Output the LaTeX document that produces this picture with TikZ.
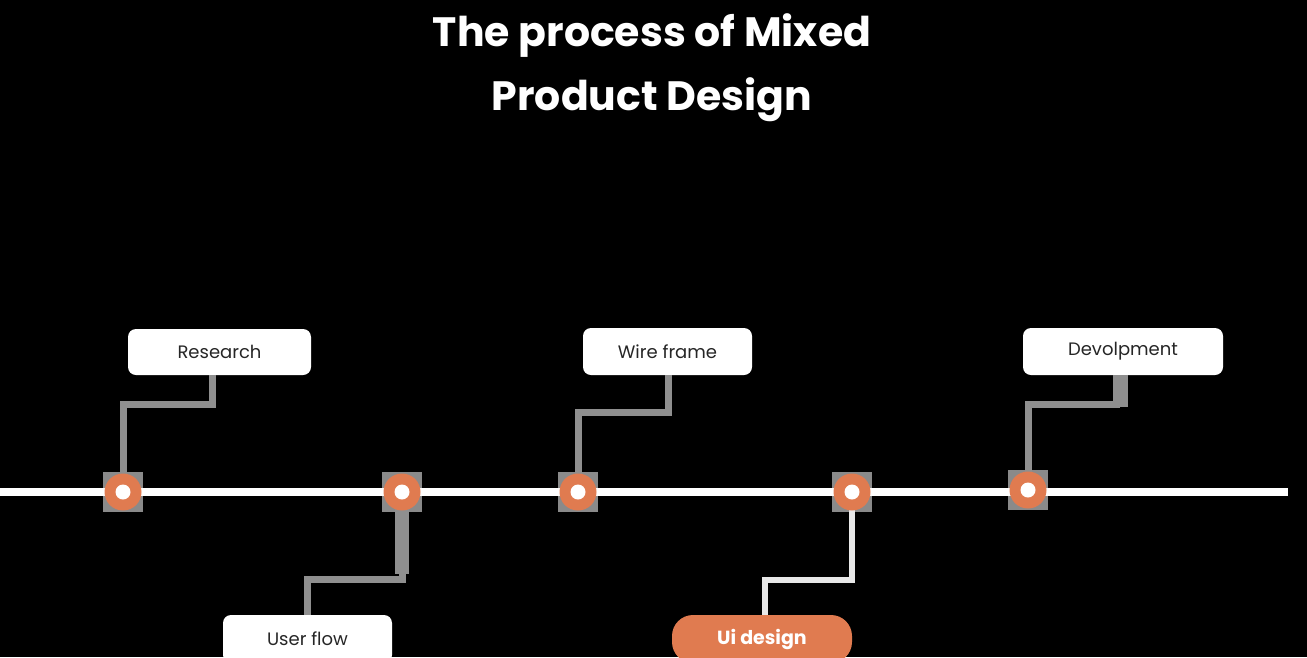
\documentclass[tikz,border=0pt]{standalone}
\usepackage{fontspec}
\setmainfont{Poppins}
\definecolor{orng}{HTML}{E07B50}
\definecolor{conn}{HTML}{8F8F8F}
\definecolor{sq}{HTML}{8A8A8A}
\definecolor{lite}{HTML}{E8E8E8}
\begin{document}
\begin{tikzpicture}[x=1pt,y=-1pt,
  lbl/.style={fill=white, rounded corners=8pt, font=\fontsize{18}{21}\selectfont, text=black!85, inner sep=0pt},
  pill/.style={fill=orng, rounded corners=21pt, font=\fontsize{19}{22}\selectfont\bfseries, text=white, inner sep=0pt, minimum width=180pt, minimum height=48pt},
  ring/.style={circle, fill=orng, minimum size=37pt, inner sep=0pt},
  sqbox/.style={fill=sq, minimum size=40pt, inner sep=0pt},
  wire/.style={draw=conn, line width=7pt},
  wirelite/.style={draw=lite, line width=6pt},
  ttl/.style={anchor=base, text=white, font=\fontsize{41}{64}\selectfont\bfseries}]
\fill[black] (0,0) rectangle (1307,657);
\useasboundingbox (0,0) rectangle (1307,657);
\clip (0,0) rectangle (1307,657);

% title
\node[ttl] (t1) at (652,46) {The process of Mixed};
\node[ttl] (t2) at (652,110) {Product Design};

% labels
\node[lbl, minimum width=183pt, minimum height=46pt] (research) at (219.5,352) {Research};
\node[lbl, minimum width=169pt, minimum height=47pt] (wire) at (667.5,351.5) {Wire frame};
\node[lbl, minimum width=200pt, minimum height=47pt] (devel) at (1123,351.5) {Devolpment};
\node[lbl, minimum width=169pt, minimum height=48pt] (userflow) at (307.5,639) {User flow};
\node[pill] (uidesign) at (762,639) {Ui design};

% gray squares behind the markers
\node[sqbox] (s1) at (123,492) {};
\node[sqbox] (s2) at (402,492) {};
\node[sqbox] (s3) at (578,492) {};
\node[sqbox] (s4) at (852,492) {};
\node[sqbox] (s5) at (1028,490) {};

% connectors
\draw[wire] ([xshift=-7pt]research.south) -- ++(0,29) -| (s1.center);
\draw[wire] ([xshift=1pt]wire.south) -- ++(0,37) -| (s3.center);
\draw[draw=conn, line width=15pt] ([xshift=-3pt]devel.south) -- ++(0,32);
\draw[wire] ([xshift=-3pt]devel.south) ++(0,29) -| (s5.center);
\draw[draw=conn, line width=14pt] (s2.center) -- ++(0,82);
\draw[wire] (userflow.north) -- ++(0,-35) -| (s2.center);
\draw[wirelite] (uidesign.north) ++(3,0) -- ++(0,-35) -| (s4.center);

% timeline
\coordinate (L) at (0,492);
\coordinate (R) at (1288,492);
\draw[white, line width=8pt] (L) -- (R);

% markers
\foreach \n/\x/\y in {c1/123/492, c2/402/492, c3/578/492, c4/852/492, c5/1028/490}{
  \node[ring] (\n) at (\x,\y) {};
  \fill[white] (\n.center) circle (7.5pt);
}
\end{tikzpicture}
\end{document}
